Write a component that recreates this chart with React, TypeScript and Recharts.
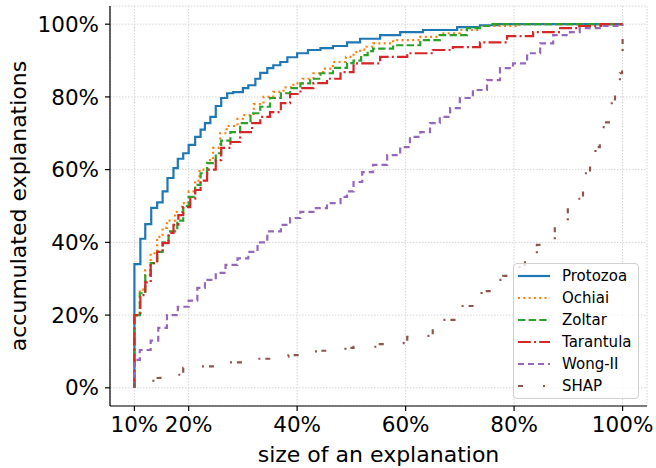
import { CartesianGrid, Line, LineChart, XAxis, YAxis } from "recharts"

// size of an explanation (%) at each step, and accumulated share (%) after it
const protozoaX = [10, 10, 11.1, 12, 13.1, 14.2, 15.2, 16.1, 17.2, 18, 19, 20, 21.2, 22.2, 23, 24, 25, 26, 27.1, 28.2, 30, 31, 32.3, 33.2, 34.5, 35.6, 36.9, 38.2, 40, 42, 44.3, 46.6, 49.2, 51.6, 55.3, 59, 63.2, 69.5, 73.7, 77, 100]
const protozoaY = [0, 34, 41, 45, 49.5, 51, 54, 57.7, 60.4, 63, 64.5, 66.8, 69, 71, 72.8, 74.5, 77.5, 79.7, 81, 81.3, 82.4, 83.2, 85, 86.6, 87.9, 88.7, 89.6, 90.9, 92, 92.9, 93.4, 94, 95, 96, 97, 97.8, 98.4, 99.2, 99.7, 100, 100]

const ochiaiX = [10, 10, 11, 12, 13, 14.2, 15.2, 16, 17.5, 18.8, 20, 21.2, 22, 23.4, 24.5, 25.8, 27, 29, 30, 32, 33.8, 35.6, 37.5, 39.3, 41, 43, 44.8, 46.6, 49, 50.4, 51.6, 52.8, 54, 57.7, 62.7, 66.3, 70, 73.7, 81, 100]
const ochiaiY = [0, 20, 27, 32.4, 37, 41.5, 44, 46, 48.4, 50.8, 54, 57, 60, 62.6, 66, 70, 72, 74, 75, 78, 80, 81.4, 82.6, 83.7, 85, 86.5, 87.8, 89.6, 91, 92.3, 93, 93.8, 94.7, 95.6, 96.5, 97.5, 98.4, 99.5, 100, 100]

const zoltarX = [10, 10, 11, 12, 13, 14.2, 15.2, 16.3, 17.9, 19, 20, 21.2, 22.2, 23.4, 25, 26, 27.7, 29.5, 31.4, 33.2, 35, 37, 38.7, 40.6, 42.4, 44.3, 46.6, 49.2, 50.4, 51.8, 53, 54, 57.7, 62.7, 66.3, 71.3, 73.7, 76, 100]
const zoltarY = [0, 20, 26, 31, 34.3, 37.4, 40, 43, 46, 50, 52.5, 55.8, 59, 61.8, 64.5, 68, 70.3, 72.8, 75.5, 77.3, 79.7, 81, 82.4, 83.7, 85, 86.5, 88, 89.3, 90, 91.5, 92.6, 93.3, 94.2, 95.6, 97, 98.9, 99.5, 100, 100]

const tarantulaX = [10, 10, 11.1, 12, 13, 14.2, 15.2, 16.3, 17.2, 18.1, 19, 20.3, 21.2, 22.2, 23.4, 25, 26, 27.7, 29.5, 31.7, 33.2, 35, 37, 38.7, 40.6, 43, 45.5, 48, 50.4, 55.3, 60.3, 65, 68.7, 73.7, 78.7, 83.5, 88.5, 92, 96, 100]
const tarantulaY = [0, 20, 25.5, 29, 34.3, 37.4, 39.8, 42.6, 44.8, 47.5, 49.7, 52, 54.4, 57, 60, 62.6, 66, 67.6, 70.3, 72.8, 74.5, 75.8, 78.3, 80.8, 82.4, 83.8, 85, 86.8, 89.2, 91, 92, 92.9, 93.7, 95, 96.7, 97.8, 98.9, 99.5, 100, 100]

const wongX = [10, 10, 11, 13, 14.4, 16, 18, 20, 21.6, 23, 25, 26.8, 29, 31, 32.7, 34.5, 37, 38.7, 40.6, 43, 45.5, 48, 49.2, 50.4, 52, 54, 56.6, 59, 60.8, 62.7, 64.5, 66.3, 68.2, 70, 72.4, 75, 77.4, 79.8, 82.4, 84.8, 87.2, 90.3, 92.1, 95.8, 100]
const wongY = [0, 7.7, 10.4, 13, 16.5, 20, 22.3, 24, 27.5, 29.7, 31.6, 33.8, 35.6, 37.4, 40, 43, 44.8, 46.7, 48.4, 49.4, 50.8, 52.5, 54, 56.6, 59.3, 61.3, 64, 66.2, 69, 70.3, 72.8, 74.5, 76.9, 79.7, 81.9, 84.6, 87.9, 89.2, 92, 94.7, 97, 97.8, 98.9, 99.5, 100]

const shapX = [10, 10, 13.5, 14.8, 19, 20.3, 25, 26.4, 30.8, 32.3, 37, 38.4, 42.8, 44.3, 48.9, 50.4, 54.8, 56.2, 60.3, 61.7, 65, 65.8, 69, 70, 73, 74, 77, 78, 81, 82, 84.2, 85.1, 87.5, 88, 89.9, 90.8, 92.7, 93, 94, 95, 95.8, 96.7, 98, 98.6, 99.5, 99.9, 100, 100]
const shapY = [0, 1.5, 2.7, 3.6, 5.5, 5.9, 6.4, 7, 7.8, 8, 8.6, 9, 10, 10.2, 11, 11.3, 12, 12.3, 14, 14.3, 17.3, 18.7, 21.4, 22.5, 25.5, 26.6, 29.7, 30.8, 33.8, 35, 39.3, 40, 44.2, 46, 50.8, 52, 56.6, 59, 64.5, 66.2, 71.7, 73, 79, 80.5, 86.5, 88.7, 95.6, 100]

const xTicks = [10, 20, 40, 60, 80, 100]
const yTicks = [0, 20, 40, 60, 80, 100]

const toPoints = (xs: number[], ys: number[]) =>
  xs.map((x, i) => ({ x, y: ys[i] }))

const SERIES = [
  { name: "Protozoa", color: "#1f77b4", dash: undefined, data: toPoints(protozoaX, protozoaY) },
  { name: "Ochiai", color: "#ff7f0e", dash: "2 3.3", data: toPoints(ochiaiX, ochiaiY) },
  { name: "Zoltar", color: "#2ca02c", dash: "7.4 3.2", data: toPoints(zoltarX, zoltarY) },
  { name: "Tarantula", color: "#d62728", dash: "12.8 3.2 2 3.2", data: toPoints(tarantulaX, tarantulaY) },
  { name: "Wong-II", color: "#9467bd", dash: "6 4", data: toPoints(wongX, wongY) },
  { name: "SHAP", color: "#8c564b", dash: "5 20 2 5", data: toPoints(shapX, shapY) },
]

const FONT = "DejaVu Sans"

function YLabel({ viewBox }: any) {
  const x = 26
  const y = viewBox.y + viewBox.height / 2
  return (
    <text
      x={x}
      y={y}
      transform={`rotate(-90, ${x}, ${y})`}
      textAnchor="middle"
      fontSize={22}
      fontFamily={FONT}
      fill="#000"
    >
      accumulated explanations
    </text>
  )
}

function XLabel({ viewBox }: any) {
  const x = viewBox.x + viewBox.width / 2
  return (
    <text x={x} y={462} textAnchor="middle" fontSize={22} fontFamily={FONT} fill="#000">
      size of an explanation
    </text>
  )
}

function LegendBox() {
  return (
    <div
      style={{
        position: "absolute",
        left: 513,
        top: 263,
        width: 124,
        height: 133,
        border: "1px solid #d0d0d0",
        borderRadius: 4,
        background: "rgba(255,255,255,0.8)",
        paddingTop: 1,
        fontFamily: FONT,
        fontSize: 15,
      }}
    >
      {SERIES.map((s) => (
        <div key={s.name} style={{ display: "flex", alignItems: "center", height: 22 }}>
          <svg width={32} height={22} style={{ marginLeft: 4, marginRight: 12 }}>
            <line x1={0} y1={11} x2={32} y2={11} stroke={s.color} strokeWidth={2.2} strokeDasharray={s.dash} />
          </svg>
          <span style={{ lineHeight: "22px" }}>{s.name}</span>
        </div>
      ))}
    </div>
  )
}

export default function App() {
  return (
    <div style={{ position: "absolute", left: 0, top: 0, width: 656, height: 468, background: "#fff" }}>
      <LineChart
        width={656}
        height={468}
        margin={{ top: 6, right: 9, left: 0, bottom: 0 }}
        style={{ fontFamily: FONT }}
      >
        <CartesianGrid stroke="#d4d4d4" strokeDasharray="1.5 1.5" />
        <XAxis
          dataKey="x"
          type="number"
          domain={[5.5, 104.5]}
          allowDataOverflow
          ticks={xTicks}
          tickFormatter={(v) => `${v}%`}
          height={62}
          tickSize={5}
          tickMargin={6}
          stroke="#000"
          tick={{ fontSize: 21.5, fill: "#000", fontFamily: FONT }}
          axisLine={{ stroke: "#000", strokeWidth: 1.2 }}
          tickLine={{ stroke: "#000", strokeWidth: 1.2 }}
          label={{ content: XLabel }}
        />
        <XAxis
          xAxisId="top"
          orientation="top"
          type="number"
          domain={[5.5, 104.5]}
          height={0}
          tick={false}
          tickLine={false}
          axisLine={{ stroke: "#000", strokeWidth: 1.2 }}
        />
        <YAxis
          type="number"
          domain={[-5, 105]}
          allowDataOverflow
          ticks={yTicks}
          tickFormatter={(v) => `${v}%`}
          width={110}
          tickSize={5}
          tickMargin={6}
          stroke="#000"
          tick={{ fontSize: 21.5, fill: "#000", fontFamily: FONT }}
          axisLine={{ stroke: "#000", strokeWidth: 1.2 }}
          tickLine={{ stroke: "#000", strokeWidth: 1.2 }}
          label={{ content: YLabel }}
        />
        <YAxis
          yAxisId="right"
          orientation="right"
          type="number"
          domain={[-5, 105]}
          width={0}
          tick={false}
          tickLine={false}
          axisLine={{ stroke: "#000", strokeWidth: 1.2 }}
        />
        {SERIES.map((s) => (
          <Line
            key={s.name}
            name={s.name}
            data={s.data}
            dataKey="y"
            type="stepAfter"
            stroke={s.color}
            strokeWidth={2.2}
            strokeDasharray={s.dash}
            dot={false}
            activeDot={false}
            isAnimationActive={false}
          />
        ))}
      </LineChart>
      <LegendBox />
    </div>
  )
}
